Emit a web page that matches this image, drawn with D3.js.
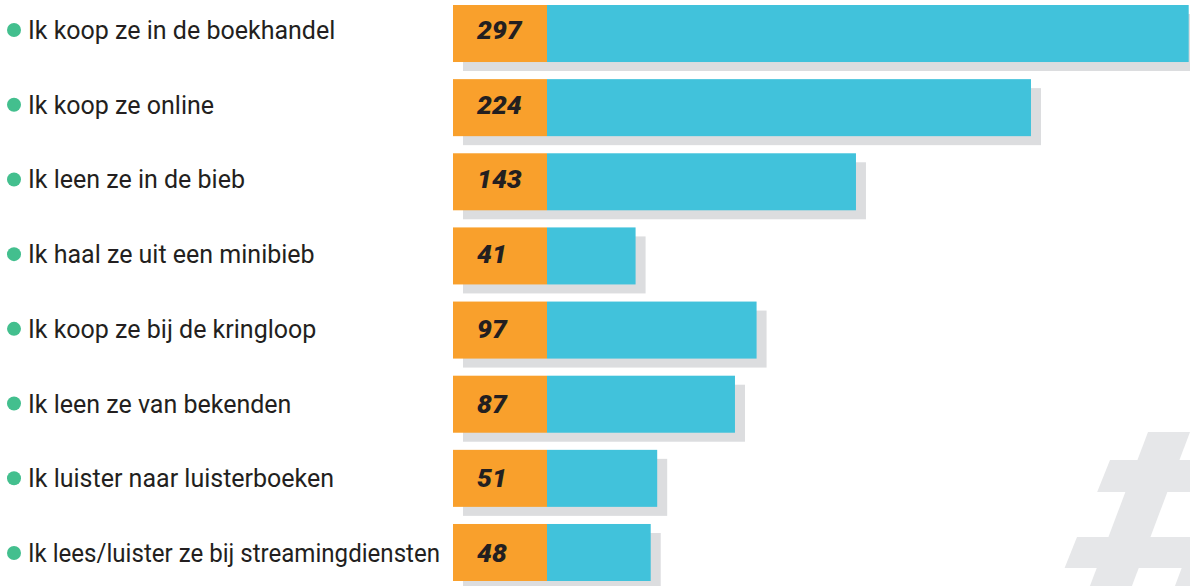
<!DOCTYPE html>
<html>
<head>
<meta charset="utf-8">
<script src="https://cdn.jsdelivr.net/npm/d3@7"></script>
<style>
  html, body { margin: 0; padding: 0; background: #fff; }
  #chart svg { display: block; }
</style>
</head>
<body>
<div id="chart"></div>
<script>
// answers, in the order shown
var categories = [
  "Ik koop ze in de boekhandel",
  "Ik koop ze online",
  "Ik leen ze in de bieb",
  "Ik haal ze uit een minibieb",
  "Ik koop ze bij de kringloop",
  "Ik leen ze van bekenden",
  "Ik luister naar luisterboeken",
  "Ik lees/luister ze bij streamingdiensten"
]
var values = [297, 224, 143, 41, 97, 87, 51, 48]

var width = 1190
var height = 586

var svg = d3.select("#chart").append("svg")
    .attr("width", width)
    .attr("height", height)

// big hash in the corner
var hash = svg.append("g").attr("fill", "#e6e7e9")
var slant = 0.377
function edge(x0, y) { return x0 - slant * (y - 432) }
// two slanted strokes
;[1148, 1233].forEach(function (x0) {
    hash.append("path").attr("d",
        "M" + edge(x0, 432) + ",432 L" + edge(x0 + 42, 432) + ",432 L" +
        edge(x0 + 42, 600) + ",600 L" + edge(x0, 600) + ",600 Z")
})
// two horizontal bars
;[[460, 492, 1110], [537, 568, 1077]].forEach(function (b) {
    hash.append("path").attr("d",
        "M" + b[2] + "," + b[0] + " L1200," + b[0] + " L1200," + b[1] +
        " L" + (b[2] - 0.4 * (b[1] - b[0])) + "," + b[1] + " Z")
})

var y = d3.scaleBand()
    .domain(categories)
    .range([5, 581])
    .paddingInner(0.231)
    .paddingOuter(0)

var yText = d3.scalePoint()
    .domain(categories)
    .range([39, 562])

var x = d3.scaleLinear()
    .domain([0, 297])
    .range([547, 1188.7])

var labelX = 453

var rows = svg.append("g")
    .selectAll("g")
    .data(categories)
    .enter()
    .append("g")

// shadow
rows.append("rect")
    .attr("x", labelX + 10)
    .attr("y", function (d) { return y(d) + 9 })
    .attr("width", function (d, i) { return x(values[i]) - labelX })
    .attr("height", y.bandwidth())
    .style("fill", "#dcdddf")

rows.append("rect")
    .attr("x", x(0))
    .attr("y", function (d) { return y(d) })
    .attr("width", function (d, i) { return x(values[i]) - x(0) })
    .attr("height", y.bandwidth())
    .style("fill", "#41c2db")

rows.append("rect")
    .attr("x", labelX)
    .attr("y", function (d) { return y(d) })
    .attr("width", x(0) - labelX)
    .attr("height", y.bandwidth())
    .style("fill", "#f9a02c")

rows.append("text")
    .attr("x", 477)
    .attr("y", function (d) { return yText(d) })
    .style("font-family", "Roboto, 'DejaVu Sans', sans-serif")
    .style("font-weight", "900")
    .style("font-style", "italic")
    .style("font-size", "26.5px")
    .style("fill", "#231f20")
    .text(function (d, i) { return values[i] })

rows.append("circle")
    .attr("cx", 14)
    .attr("cy", function (d) { return yText(d) - 9 })
    .attr("r", 7)
    .style("fill", "#43bf8e")

var maxLabel = labelX - 28 - 13

rows.append("text")
    .attr("x", 28)
    .attr("y", function (d) { return yText(d) })
    .style("font-family", "Roboto, sans-serif")
    .style("font-size", "25px")
    .style("fill", "#231f20")
    .text(function (d) { return d })
    .each(function () {
        // squeeze a label that would run into its bar
        if (this.getComputedTextLength() > maxLabel) {
            d3.select(this).attr("textLength", maxLabel).attr("lengthAdjust", "spacingAndGlyphs")
        }
    })
</script>
</body>
</html>
